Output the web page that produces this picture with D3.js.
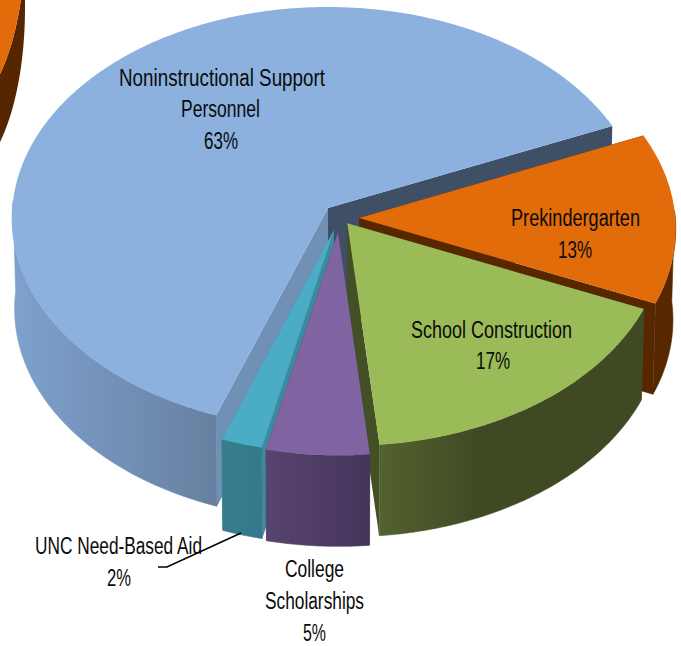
<!DOCTYPE html>
<html>
<head>
<meta charset="utf-8">
<script src="https://cdn.jsdelivr.net/npm/d3@7/dist/d3.min.js"></script>
<style>
html,body{margin:0;padding:0;background:#fff;overflow:hidden}
svg{display:block}
text{font-family:"Liberation Sans",sans-serif;font-size:23px;fill:#0b0b0b;text-anchor:middle}
</style>
</head>
<body>
<svg id="chart" width="681" height="646"></svg>
<script>
// Data, in clockwise drawing order
const categories = ["Prekindergarten", "School Construction", "College Scholarships", "UNC Need-Based Aid", "Noninstructional Support Personnel"];
const shares = [13, 17, 5, 2, 63];

// Styles
const topColors = ["#e26b0a", "#9bbb59", "#8064a2", "#4bacc6", "#8cb1de"];
const sideColorsFrom = ["#572800", "#54632f", "#584570", "#367d8e", "#7fa1ce"];
const sideColorsTo = ["#572800", "#3f4a25", "#45345a", "#35798a", "#667f9f"];
const startWallColors = ["#572800", "#434f25", "#45345a", "#3a8b9e", "#7190b5"];
const endWallColors = ["#572800", "#434f25", "#45345a", "#3a8b9e", "#3e4f66"];

// Layout: explosion of each slice on the pie's plane
const explodeU = [0.098, 0.061, 0.0315, 0.019, 0];
const explodeV = [0.047, 0.072, 0.113, 0.104, 0];
const sideGradientX = [[640, 680], [375, 480], [262, 370], [220, 265], [12, 222]];
const paintOrder = [4, 0, 1, 3, 2];

// Labels: text lines and the box of each line
const labelLines = [
  [["Prekindergarten", 575.5, 226, 129], ["13%", 575, 258, 34]],
  [["School Construction", 491.5, 338, 161], ["17%", 493, 369, 34]],
  [["College", 314.5, 577, 59], ["Scholarships", 314.5, 609, 99], ["5%", 314.5, 641, 23]],
  [["UNC Need-Based Aid", 118.5, 554, 167], ["2%", 119, 586, 24]],
  [["Noninstructional Support", 222, 86, 206], ["Personnel", 220.5, 117, 79], ["63%", 221, 149, 34]]
];
const leaderLine = [[241, 533], [167, 567], [158, 567]];

// Pie geometry
const svg = d3.select("#chart");
const defs = svg.append("defs");
const deg = Math.PI / 180;
const pie = d3.pie().sort(null).startAngle(66.6 * deg).endAngle((66.6 + 360) * deg);
const arcs = pie(shares);

// Perspective projection of the pie's unit disc to the page
const cx = 328, cy = 218, rx = 315.6, ry = 211, apexLift = 10, persp = -0.0474;
const depth = 91, bottomShrink = 0.992;
const visibleFrom = 88 * deg, visibleTo = 272 * deg;
const scaleU = d3.scaleLinear().domain([-1, 1]).range([-rx, rx]);
const scaleV = d3.scaleLinear().domain([-1, 1]).range([-ry, ry]);
function project(u, v) {
  const w = 1 + persp * v;
  return [cx + scaleU(u) / w, cy + (scaleV(v) - apexLift) / w];
}
function lower(p) { return [cx + (p[0] - cx) * bottomShrink, p[1] + depth]; }
function rim(i, a) { return project(explodeU[i] + Math.sin(a), explodeV[i] - Math.cos(a)); }
function apex(i) { return project(explodeU[i], explodeV[i]); }
function rimPoints(i, a0, a1) {
  const n = Math.max(2, Math.ceil(Math.abs(a1 - a0) / (0.5 * deg)));
  return d3.range(n + 1).map(k => rim(i, a0 + (a1 - a0) * k / n));
}
const line = d3.line();
const closed = pts => line(pts) + "Z";

paintOrder.forEach(i => {
  const a = arcs[i];
  const g = svg.append("g").attr("class", "slice");
  const top = rimPoints(i, a.startAngle, a.endAngle);
  const first = top[0], last = top[top.length - 1], ap = apex(i);

  const gid = "side" + i;
  const grad = defs.append("linearGradient").attr("id", gid)
    .attr("gradientUnits", "userSpaceOnUse")
    .attr("x1", sideGradientX[i][0]).attr("x2", sideGradientX[i][1])
    .attr("y1", 0).attr("y2", 0);
  grad.append("stop").attr("offset", 0).attr("stop-color", sideColorsFrom[i]);
  grad.append("stop").attr("offset", 1).attr("stop-color", sideColorsTo[i]);

  // cut faces
  g.append("path").attr("d", closed([ap, first, lower(first), lower(ap)]))
    .attr("fill", startWallColors[i]);
  g.append("path").attr("d", closed([ap, last, lower(last), lower(ap)]))
    .attr("fill", endWallColors[i]);
  // outer side: only the part of the rim that faces the viewer
  const shell = rimPoints(i, Math.max(a.startAngle, visibleFrom), Math.min(a.endAngle, visibleTo));
  g.append("path").attr("d", closed(shell.concat(shell.map(lower).reverse())))
    .attr("fill", `url(#${gid})`)
    .attr("stroke", `url(#${gid})`).attr("stroke-width", 0.6);
  // top face
  g.append("path").attr("d", closed([ap].concat(top))).attr("fill", topColors[i]);
});

// Cropped neighbouring orange slice at the top-left of the picture
const fragCx = -40, fragCy = -60, fragRx = 65, fragRy = 170, fragDepth = 68;
const fragAngles = d3.range(0, 181, 2).map(d => d * deg);
const fragTop = fragAngles.map(a => [fragCx + fragRx * Math.cos(a), fragCy + fragRy * Math.sin(a)]);
const frag = svg.insert("g", ":first-child");
frag.append("path")
  .attr("d", closed(fragTop.concat(fragTop.map(p => [p[0], p[1] + fragDepth]).reverse())))
  .attr("fill", "#552600");
frag.append("path").attr("d", closed(fragTop)).attr("fill", "#e26b0a");

// Leader line
svg.append("path").attr("d", line(leaderLine))
  .attr("fill", "none").attr("stroke", "#000").attr("stroke-width", 1.6);

// Labels
labelLines.forEach(lines => {
  lines.forEach(l => {
    svg.append("text").text(l[0])
      .attr("x", l[1]).attr("y", l[2])
      .attr("textLength", l[3]).attr("lengthAdjust", "spacingAndGlyphs");
  });
});
</script>
</body>
</html>
